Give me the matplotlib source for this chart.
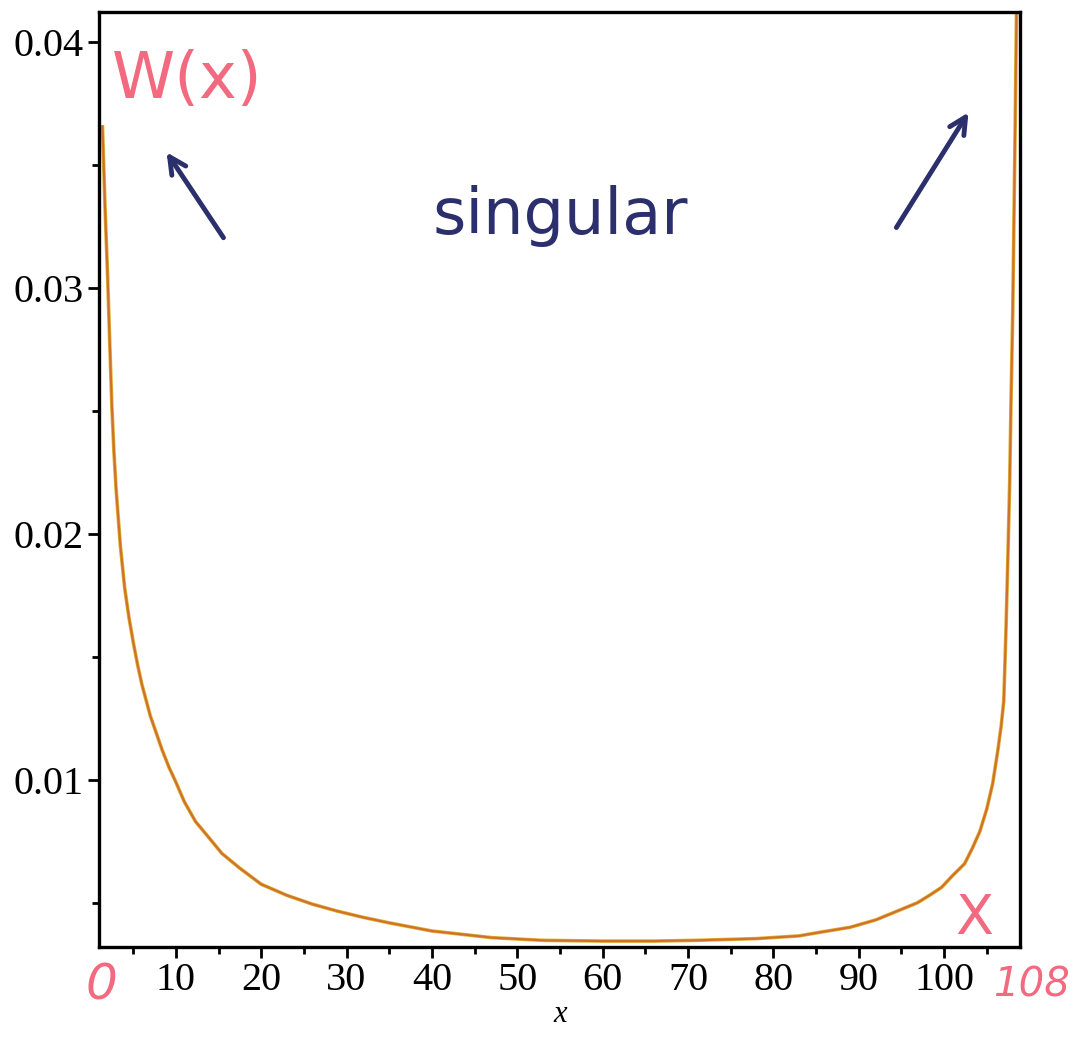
import numpy as np
import matplotlib.pyplot as plt
from matplotlib.patches import FancyArrowPatch
from matplotlib.ticker import MultipleLocator, FormatStrFormatter

# W(x) curve
xs = [1.4, 1.7, 2.0, 2.25, 2.5, 2.75, 3.0, 3.5, 4.0, 4.5, 5.0, 5.5, 6.0,
      7.0, 7.7, 8.4, 9.2, 10.0, 11.0, 12.3, 13.5, 15.4, 17.5, 20.0, 23.0,
      26.0, 29.0, 32.0, 35.0, 40.0, 47.0, 53.0, 60.0, 66.0, 71.0, 78.0,
      83.0, 85.5, 89.0, 92.0, 94.6, 96.9, 98.3, 99.7, 101.0, 102.4, 103.3,
      104.2, 105.0, 105.7, 106.3, 106.7, 107.0, 107.25, 107.5, 107.7,
      107.85, 108.05, 108.2, 108.35, 108.5]
ws = [0.0366, 0.0333, 0.0305, 0.0278, 0.0252, 0.0233, 0.0218, 0.0195,
      0.0178, 0.0166, 0.0156, 0.0147, 0.0139, 0.0126, 0.0119, 0.0112,
      0.0105, 0.0099, 0.0091, 0.0083, 0.0078, 0.0070, 0.0064, 0.00575,
      0.0053, 0.00494, 0.00465, 0.00440, 0.00418, 0.00385, 0.00358,
      0.00347, 0.00344, 0.00344, 0.00347, 0.00354, 0.00365, 0.0038,
      0.00400, 0.00430, 0.00467, 0.00500, 0.0053, 0.00562, 0.0061,
      0.00658, 0.0072, 0.00790, 0.0088, 0.00984, 0.01118, 0.0122, 0.0132,
      0.0160, 0.0193, 0.0222, 0.0254, 0.0290, 0.0330, 0.0370, 0.0415]

x_major = [10, 20, 30, 40, 50, 60, 70, 80, 90, 100]
y_major = [0.01, 0.02, 0.03, 0.04]

fig = plt.figure(figsize=(10.73, 10.45), dpi=100)
ax = fig.add_axes([0.0923, 0.0938, 0.8583, 0.8947])

ax.plot(xs, ws, color='#e0b030', lw=2.6, solid_capstyle='butt')
ax.plot(xs, ws, color='#d0702e', lw=1.5, solid_capstyle='butt')

ax.set_xlim(1.0, 108.9)
ax.set_ylim(0.0032, 0.0412)
ax.set_xticks(x_major)
ax.set_yticks(y_major)
ax.xaxis.set_minor_locator(MultipleLocator(5))
ax.yaxis.set_minor_locator(MultipleLocator(0.005))
ax.yaxis.set_major_formatter(FormatStrFormatter('%.2f'))

for s in ax.spines.values():
    s.set_linewidth(2.4)
ax.tick_params(which='major', direction='out', length=8, width=2, pad=3,
               top=False, right=False)
ax.tick_params(which='minor', direction='out', length=5, width=2,
               top=False, right=False)
for lab in ax.get_xticklabels() + ax.get_yticklabels():
    lab.set_family('Liberation Serif')
    lab.set_fontsize(29)

fig.text(0.522, 0.015, 'x', family='Liberation Serif', style='italic',
         fontsize=22, ha='center', va='bottom')

# handwritten notes
red = '#f0506a'
navy = '#2b2f6b'
fig.text(0.174, 0.923, 'W(x)', color=red, fontsize=46, ha='center',
         va='center', alpha=0.85)
fig.text(0.522, 0.793, 'singular', color=navy, fontsize=46, ha='center',
         va='center')
fig.text(0.095, 0.057, '0', color=red, fontsize=36, style='italic',
         ha='center', va='center', alpha=0.85)
fig.text(0.997, 0.057, '108', color=red, fontsize=29, style='italic',
         ha='right', va='center', alpha=0.85)
fig.text(0.908, 0.121, 'X', color=red, fontsize=40, ha='center',
         va='center', alpha=0.85)

arrow = dict(arrowstyle='->', color=navy, lw=3.5, mutation_scale=30)
fig.add_artist(FancyArrowPatch((0.2097, 0.7703), (0.1538, 0.8565),
                               transform=fig.transFigure, **arrow))
fig.add_artist(FancyArrowPatch((0.834, 0.780), (0.904, 0.8947),
                               transform=fig.transFigure, **arrow))

fig.savefig('out.png', dpi=100)
